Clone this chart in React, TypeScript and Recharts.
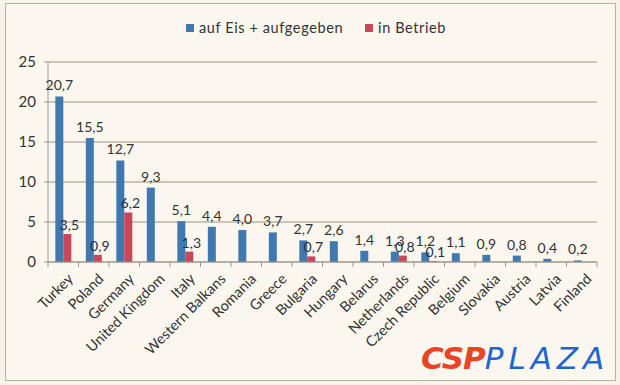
import React from 'react';
import { BarChart, Bar, XAxis, YAxis, CartesianGrid, LabelList } from 'recharts';

const countries = [
    'Turkey', 'Poland', 'Germany', 'United Kingdom', 'Italy', 'Western Balkans',
    'Romania', 'Greece', 'Bulgaria', 'Hungary', 'Belarus', 'Netherlands',
    'Czech Republic', 'Belgium', 'Slovakia', 'Austria', 'Latvia', 'Finland',
];
const onIce = [20.7, 15.5, 12.7, 9.3, 5.1, 4.4, 4.0, 3.7, 2.7, 2.6, 1.4, 1.3, 1.2, 1.1, 0.9, 0.8, 0.4, 0.2];
const inOperation = [3.5, 0.9, 6.2, null, 1.3, null, null, null, 0.7, null, null, 0.8, 0.1, null, null, null, null, null];
const yTicks = [0, 5, 10, 15, 20, 25];

const data = countries.map((name, i) => ({ name, onIce: onIce[i], inOperation: inOperation[i] }));

const BLUE = '#4079b0';
const RED = '#c8475b';
const AXIS = '#9d998f';
const FONT = 'Lato, "Open Sans", sans-serif';

const W = 620;
const H = 385;
const MARGIN = { top: 62, right: 23, left: 8, bottom: 13 };
const Y_WIDTH = 40;
const BAND = (W - MARGIN.left - MARGIN.right - Y_WIDTH) / countries.length;

const fmt = (v: any) => (v == null ? '' : Number(v).toFixed(1).replace('.', ','));

const CountryTick = (props: any) => {
    const { x, y, payload } = props;
    return (
        <g>
            {/* excel-style tick mark on the category boundary */}
            <line x1={x - BAND / 2} x2={x - BAND / 2} y1={y - 8} y2={y - 3} stroke={AXIS} />
            {payload.index === countries.length - 1 && (
                <line x1={x + BAND / 2} x2={x + BAND / 2} y1={y - 8} y2={y - 3} stroke={AXIS} />
            )}
            <g transform={`translate(${x + 8},${y + 7})`}>
                <text
                    x={0}
                    y={0}
                    dy={4}
                    textAnchor="end"
                    transform="rotate(-45)"
                    fill="#333"
                    fontSize={14.5}
                    fontFamily={FONT}
                >
                    {payload.value}
                </text>
            </g>
        </g>
    );
};

// red labels sit a little to the right, as in the source
const RedLabel = (props: any) => {
    const { x, y, width, value } = props;
    if (value == null) return null;
    return (
        <text
            x={x + width / 2 + 2}
            y={y - 4}
            textAnchor="middle"
            fill="#1f2f4d"
            fontSize={14}
            fontFamily={FONT}
        >
            {fmt(value)}
        </text>
    );
};

export default function App() {
    return (
        <div
            style={{
                position: 'absolute',
                left: 0,
                top: 0,
                width: W,
                height: H,
                background: '#f6f2e8',
                fontFamily: FONT,
            }}
        >
            <div
                style={{
                    position: 'absolute',
                    left: 5,
                    top: 3,
                    width: 609,
                    height: 376,
                    border: '1px solid #b7b2a6',
                    background: '#fbf7ee',
                }}
            />
            <div style={{ position: 'absolute', left: 0, top: 0 }}>
                <BarChart
                    width={W}
                    height={H}
                    data={data}
                    margin={MARGIN}
                    barGap={0}
                    barCategoryGap="24%"
                >
                    <CartesianGrid vertical={false} stroke="#b9b4a7" strokeWidth={1.5} />
                    <XAxis
                        dataKey="name"
                        interval={0}
                        height={110}
                        tick={<CountryTick />}
                        axisLine={{ stroke: AXIS }}
                        tickLine={false}
                    />
                    <YAxis
                        width={Y_WIDTH}
                        domain={[0, 25]}
                        ticks={yTicks}
                        tick={{ fill: '#333', fontSize: 15, fontFamily: FONT, dx: -6 }}
                        axisLine={{ stroke: AXIS }}
                        tickLine={{ stroke: AXIS }}
                        tickSize={4}
                    />
                    <Bar dataKey="onIce" fill={BLUE} isAnimationActive={false}>
                        <LabelList
                            dataKey="onIce"
                            position="top"
                            offset={6}
                            formatter={fmt}
                            style={{ fill: '#333', fontSize: 14, fontFamily: FONT }}
                        />
                    </Bar>
                    <Bar dataKey="inOperation" fill={RED} isAnimationActive={false}>
                        <LabelList dataKey="inOperation" content={<RedLabel />} />
                    </Bar>
                </BarChart>
            </div>
            <div
                style={{
                    position: 'absolute',
                    left: 186,
                    top: 19,
                    display: 'flex',
                    alignItems: 'center',
                    fontSize: 14.5,
                    letterSpacing: 0.6,
                    color: '#333',
                    whiteSpace: 'nowrap',
                }}
            >
                <span style={{ width: 8, height: 8, background: BLUE, marginRight: 5 }} />
                <span>auf Eis + aufgegeben</span>
                <span style={{ width: 8, height: 8, background: RED, marginLeft: 22, marginRight: 5 }} />
                <span>in Betrieb</span>
            </div>
            <div
                style={{
                    position: 'absolute',
                    left: 421,
                    top: 340,
                    fontSize: 31,
                    fontStyle: 'italic',
                    fontFamily: '"DejaVu Sans", sans-serif',
                    whiteSpace: 'nowrap',
                }}
            >
                <span style={{ color: '#ea4424', fontWeight: 900, letterSpacing: -1 }}>CSP</span>
                <span style={{ color: '#1f66d1', fontWeight: 300, letterSpacing: 5 }}>PLAZA</span>
            </div>
        </div>
    );
}
